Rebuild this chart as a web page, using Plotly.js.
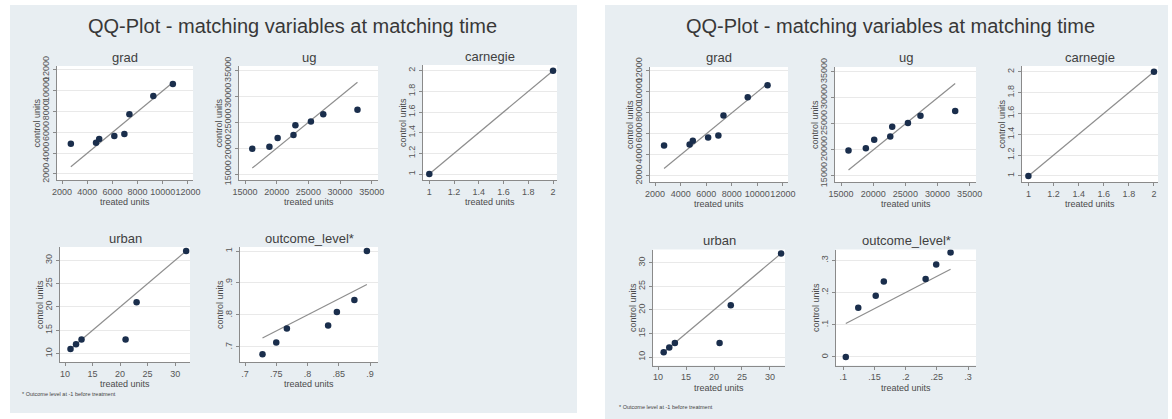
<!DOCTYPE html>
<html><head><meta charset="utf-8">
<script src="https://cdn.plot.ly/plotly-3.0.1.min.js"></script>
<style>html,body{margin:0;padding:0;background:#fff}#chart{width:1172px;height:419px}</style>
</head><body><div id="chart"></div>
<script>
// ---------------- data ----------------
const panelTitle = 'QQ-Plot - matching variables at matching time';
const footnote = '* Outcome level at -1 before treatment';
const xTitle = 'treated units';
const yTitle = 'control units';
const subTitles = ['grad', 'ug', 'carnegie', 'urban', 'outcome_level*'];

const gradTreated = [2700, 4700, 4950, 6150, 6950, 7350, 9250, 10800];
const gradControl = [4900, 5000, 5350, 5650, 5850, 7750, 9500, 10650];
const ugTreated = [16150, 18850, 20150, 22650, 22950, 25400, 27350, 32750];
const ugControl = [19900, 20300, 21950, 22550, 24450, 25150, 26550, 27450];
const carnegieTreated = [1, 2];
const carnegieControl = [1, 2];
const urbanTreated = [11, 12, 13, 21, 23, 32];
const urbanControl = [11, 12, 13, 13, 21, 32];
const outcomeTreatedLeft = [0.728, 0.750, 0.767, 0.833, 0.847, 0.875, 0.895];
const outcomeControlLeft = [0.677, 0.714, 0.758, 0.767, 0.809, 0.847, 1.000];
const outcomeTreatedRight = [0.104, 0.124, 0.152, 0.165, 0.232, 0.249, 0.272];
const outcomeControlRight = [0.000, 0.153, 0.190, 0.234, 0.242, 0.287, 0.324];

const gradTicks = [2000, 4000, 6000, 8000, 10000, 12000];
const gradTickText = ['2000', '4000', '6000', '8000', '10000', '12000'];
const ugTicks = [15000, 20000, 25000, 30000, 35000];
const ugTickText = ['15000', '20000', '25000', '30000', '35000'];
const carnegieTicks = [1, 1.2, 1.4, 1.6, 1.8, 2];
const carnegieTickText = ['1', '1.2', '1.4', '1.6', '1.8', '2'];
const urbanTicks = [10, 15, 20, 25, 30];
const urbanTickText = ['10', '15', '20', '25', '30'];
const outcomeXTicksLeft = [0.7, 0.75, 0.8, 0.85, 0.9];
const outcomeXTextLeft = ['.7', '.75', '.8', '.85', '.9'];
const outcomeYTicksLeft = [0.7, 0.8, 0.9, 1];
const outcomeYTextLeft = ['.7', '.8', '.9', '1'];
const outcomeXTicksRight = [0.1, 0.15, 0.2, 0.25, 0.3];
const outcomeXTextRight = ['.1', '.15', '.2', '.25', '.3'];
const outcomeYTicksRight = [0, 0.1, 0.2, 0.3];
const outcomeYTextRight = ['0', '.1', '.2', '.3'];

// ---------------- styling / layout ----------------
const W = 1172, H = 419;
const px = v => v / W;
const py = v => 1 - v / H;
const FONT = 'Liberation Sans, Arial, sans-serif';
const PANEL_BG = '#e8eef2';
const MARKER = '#1a2e4c';
const REFLINE = '#8e8e8e';
const AXIS = '#8a8a8a';

const traces = [];
const shapes = [];
const annotations = [];
const layout = {
  width: W, height: H,
  margin: {l: 0, r: 0, t: 0, b: 0},
  paper_bgcolor: '#ffffff',
  plot_bgcolor: '#ffffff',
  showlegend: false,
  font: {family: FONT}
};

function text(x, y, t, size, extra) {
  annotations.push(Object.assign({
    xref: 'paper', yref: 'paper', x: px(x), y: py(y), text: t, showarrow: false,
    xanchor: 'center', yanchor: 'middle',
    font: {family: FONT, size: size, color: '#3a3a3a'}
  }, extra || {}));
}

// panels: backgrounds and titles
const panels = [
  {box: [10, 577, 5, 413], titleX: 292.5, titleY: 26, footX: 20, footY: 394},
  {box: [605, 1168, 5, 419], titleX: 890, titleY: 26, footX: 617, footY: 406.5}
];
panels.forEach(p => {
  shapes.push({type: 'rect', xref: 'paper', yref: 'paper', layer: 'below',
    x0: px(p.box[0]), x1: px(p.box[1]), y0: py(p.box[3]), y1: py(p.box[2]),
    fillcolor: PANEL_BG, line: {width: 0}});
  text(p.titleX, p.titleY, panelTitle, 20, {font: {family: FONT, size: 20, color: '#383838'}});
  text(p.footX, p.footY, footnote, 5.5, {xanchor: 'left', font: {family: FONT, size: 5.5, color: '#444'}});
});

const common = {
  showline: true, linecolor: AXIS, linewidth: 1, mirror: false,
  ticks: 'outside', ticklen: 3, tickwidth: 1, tickcolor: AXIS,
  tickfont: {family: FONT, size: 9, color: '#555'},
  zeroline: false, fixedrange: true, tickmode: 'array'
};

let n = 0;
function addSub(s) {
  n++;
  const xa = n === 1 ? 'x' : 'x' + n;
  const ya = n === 1 ? 'y' : 'y' + n;
  const xk = n === 1 ? 'xaxis' : 'xaxis' + n;
  const yk = n === 1 ? 'yaxis' : 'yaxis' + n;
  const lo = Math.min(...s.xT), hi = Math.max(...s.xT);
  traces.push({type: 'scatter', mode: 'lines', x: [lo, hi], y: [lo, hi], xaxis: xa, yaxis: ya,
    line: {color: REFLINE, width: 1.2}, hoverinfo: 'skip'});
  traces.push({type: 'scatter', mode: 'markers', x: s.xT, y: s.yC, xaxis: xa, yaxis: ya,
    marker: {color: MARKER, size: 6.5}});
  const [x0, x1, y0, y1] = s.box;
  layout[xk] = Object.assign({}, common, {
    domain: [px(x0), px(x1)], range: s.xRange, anchor: ya,
    tickvals: s.xTicks, ticktext: s.xText, tickangle: 0, showgrid: false
  });
  layout[yk] = Object.assign({}, common, {
    domain: [py(y1), py(y0)], range: s.yRange, anchor: xa,
    tickvals: s.yTicks, ticktext: s.yText, tickangle: -90,
    showgrid: true, gridcolor: '#e9e9e9', gridwidth: 1
  });
  shapes.push({type: 'rect', xref: xa + ' domain', yref: ya + ' domain', layer: 'below',
    x0: 0, x1: 1, y0: 0, y1: 1, fillcolor: '#ffffff', line: {width: 0}});
  const cx = (x0 + x1) / 2, cy = (y0 + y1) / 2;
  text(cx, y0 - 9, s.title, 13, {font: {family: FONT, size: 13, color: '#3f3f3f'}});
  text(cx, y1 + 22, xTitle, 9, {font: {family: FONT, size: 9, color: '#4a4a4a'}});
  text(x0 - 20.5, cy, yTitle, 9, {textangle: -90, font: {family: FONT, size: 9, color: '#4a4a4a'}});
}

// subplot boxes [left, right, top, bottom] in px
const boxesLeft = [[57, 193, 66, 180], [239, 378, 66, 180], [423, 557, 65, 180], [60, 190, 247, 362], [240, 378, 247, 362]];
const boxesRight = [[650, 788, 67, 182], [835, 976, 67, 182], [1022, 1158, 66, 182], [653, 785, 249.5, 365.5], [836, 976, 249.5, 365.5]];

[0, 1].forEach(side => {
  const boxes = side === 0 ? boxesLeft : boxesRight;
  addSub({title: subTitles[0], box: boxes[0], xT: gradTreated, yC: gradControl,
    xTicks: gradTicks, xText: gradTickText, yTicks: gradTicks, yText: gradTickText,
    xRange: [1600, 12400], yRange: [1420, 12380]});
  addSub({title: subTitles[1], box: boxes[1], xT: ugTreated, yC: ugControl,
    xTicks: ugTicks, xText: ugTickText, yTicks: ugTicks, yText: ugTickText,
    xRange: [14050, 35990], yRange: [13840, 35910]});
  addSub({title: subTitles[2], box: boxes[2], xT: carnegieTreated, yC: carnegieControl,
    xTicks: carnegieTicks, xText: carnegieTickText, yTicks: carnegieTicks, yText: carnegieTickText,
    xRange: [0.949, 2.032], yRange: [0.942, 2.055]});
  addSub({title: subTitles[3], box: boxes[3], xT: urbanTreated, yC: urbanControl,
    xTicks: urbanTicks, xText: urbanTickText, yTicks: urbanTicks, yText: urbanTickText,
    xRange: [9.09, 32.7], yRange: [8.2, 32.85]});
  if (side === 0) {
    addSub({title: subTitles[4], box: boxes[4], xT: outcomeTreatedLeft, yC: outcomeControlLeft,
      xTicks: outcomeXTicksLeft, xText: outcomeXTextLeft, yTicks: outcomeYTicksLeft, yText: outcomeYTextLeft,
      xRange: [0.692, 0.9128], yRange: [0.653, 1.0125]});
  } else {
    addSub({title: subTitles[4], box: boxes[4], xT: outcomeTreatedRight, yC: outcomeControlRight,
      xTicks: outcomeXTicksRight, xText: outcomeXTextRight, yTicks: outcomeYTicksRight, yText: outcomeYTextRight,
      xRange: [0.0883, 0.3128], yRange: [-0.0264, 0.3335]});
  }
});

layout.shapes = shapes;
layout.annotations = annotations;
Plotly.newPlot('chart', traces, layout, {displayModeBar: false, staticPlot: true});
</script>
</body></html>
